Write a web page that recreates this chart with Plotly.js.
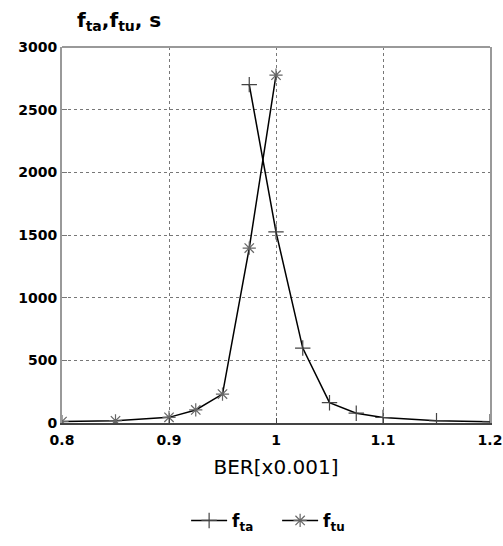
<!DOCTYPE html>
<html>
<head>
<meta charset="utf-8">
<script src="https://cdn.plot.ly/plotly-3.0.1.min.js"></script>
<style>html,body{margin:0;padding:0;background:#fff;}#chart{width:503px;height:546px;}</style>
</head>
<body>
<div id="chart"></div>
<script>
const ftaBER = [0.975, 1.0, 1.025, 1.05, 1.075, 1.1, 1.15, 1.2];
const ftaValues = [2700, 1525, 598, 162, 78, 44, 18, 10];
const ftuBER = [0.8, 0.85, 0.9, 0.925, 0.95, 0.975, 1.0];
const ftuValues = [12, 18, 45, 104, 231, 1396, 2775];
const xTicks = [0.8, 0.9, 1.0, 1.1, 1.2];
const xTickLabels = ['0.8', '0.9', '1', '1.1', '1.2'];
const yTicks = [0, 500, 1000, 1500, 2000, 2500, 3000];

const FONT = 'DejaVu Sans, Arial, sans-serif';

const traces = [
  {
    x: ftaBER, y: ftaValues, name: 'f<sub>ta</sub>', type: 'scatter', mode: 'lines+markers',
    line: {color: '#000', width: 1.5},
    marker: {symbol: 'cross-thin-open', size: 11, color: '#444', line: {color: '#444', width: 1.2}}
  },
  {
    x: ftuBER, y: ftuValues, name: 'f<sub>tu</sub>', type: 'scatter', mode: 'lines+markers',
    line: {color: '#000', width: 1.5},
    marker: {symbol: 'asterisk-open', size: 11, color: '#666', line: {color: '#666', width: 1.2}}
  }
];

const layout = {
  width: 503, height: 546,
  margin: {l: 62, r: 13, t: 47, b: 123, autoexpand: false},
  paper_bgcolor: '#fff', plot_bgcolor: '#fff',
  font: {family: FONT, size: 15, color: '#000'},
  title: {
    text: 'f<sub>ta</sub>,f<sub>tu</sub>, s',
    font: {family: FONT, size: 20, color: '#000', weight: 'bold'},
    xref: 'paper', x: 0.035, xanchor: 'left',
    yref: 'container', y: 0.963, yanchor: 'middle', automargin: false
  },
  xaxis: {
    range: [0.8, 1.2], tickvals: xTicks, ticktext: xTickLabels,
    showgrid: true, gridcolor: '#777', griddash: 'dot', gridwidth: 1,
    showline: true, linecolor: '#444', linewidth: 1.5,
    ticks: 'inside', ticklen: 5, tickcolor: '#444',
    zeroline: false, fixedrange: true, automargin: false,
    ticklabelstandoff: 4,
    tickfont: {family: FONT, size: 14, weight: 'bold'},
    title: {text: 'BER[x0.001]', font: {family: FONT, size: 20}, standoff: 12}
  },
  yaxis: {
    range: [0, 3000], tickvals: yTicks,
    showgrid: true, gridcolor: '#777', griddash: 'dot', gridwidth: 1,
    showline: true, linecolor: '#999', linewidth: 2, mirror: true,
    ticks: 'inside', ticklen: 5, tickcolor: '#777',
    zeroline: false, fixedrange: true, automargin: false,
    tickfont: {family: FONT, size: 14, weight: 'bold'}
  },
  shapes: [
    {type: 'line', xref: 'paper', yref: 'paper', x0: 0, x1: 1, y0: 1, y1: 1, line: {color: '#999', width: 2}}
  ],
  showlegend: true,
  legend: {
    orientation: 'h', xref: 'paper', x: 0.29, xanchor: 'left',
    yref: 'container', y: 0.046, yanchor: 'middle',
    font: {family: FONT, size: 17, weight: 'bold'}, entrywidth: 40, entrywidthmode: 'pixels',
    itemwidth: 36, tracegroupgap: 0
  }
};

Plotly.newPlot('chart', traces, layout, {displayModeBar: false, staticPlot: true});
</script>
</body>
</html>
